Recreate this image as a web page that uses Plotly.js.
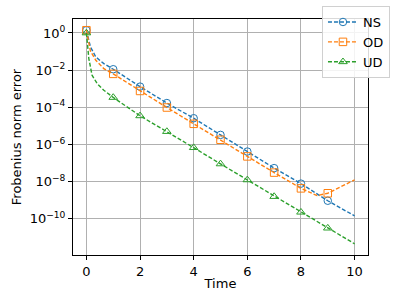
<!DOCTYPE html>
<html>
<head>
<meta charset="utf-8">
<script src="https://cdn.plot.ly/plotly-3.0.1.min.js"></script>
<style>html,body{margin:0;padding:0;background:#fff;}#chart{width:407px;height:305px;}</style>
</head>
<body>
<div id="chart"></div>
<script>
// Time samples (markers at integer times)
const timeNS = [0, 0.15, 0.35, 0.65, 1, 2, 3, 4, 5, 6, 7, 8, 9, 10];
const errNS  = [1.4, 0.178, 0.051, 0.0224, 0.0112, 1.3e-3, 1.7e-4, 2.6e-5, 3.3e-6, 4.2e-7, 5.4e-8, 7.9e-9, 9.5e-10, 1.45e-10];

const timeOD = [0, 0.15, 0.35, 0.65, 1, 2, 3, 4, 5, 6, 7, 8, 8.6, 9, 10];
const errOD  = [1.4, 0.105, 0.034, 0.012, 6.3e-3, 7.6e-4, 9.8e-5, 1.3e-5, 1.8e-6, 2.3e-7, 3.1e-8, 4.4e-9, 1.8e-9, 2.4e-9, 1.26e-8];

const timeUD = [0, 0.05, 0.09, 0.21, 0.4, 0.65, 1, 2, 3, 4, 5, 6, 7, 8, 9, 10];
const errUD  = [1.0, 0.18, 0.042, 5.4e-3, 1.9e-3, 8.3e-4, 3.4e-4, 3.5e-5, 5.0e-6, 6.8e-7, 9.1e-8, 1.26e-8, 1.6e-9, 2.3e-10, 3.2e-11, 4.6e-12];

const markerTimes = [0, 1, 2, 3, 4, 5, 6, 7, 8, 9];
const seriesNames = ['NS', 'OD', 'UD'];
const yTickVals = [1, 1e-2, 1e-4, 1e-6, 1e-8, 1e-10];
const yTickText = ['10<sup>0</sup>', '10<sup>−2</sup>', '10<sup>−4</sup>', '10<sup>−6</sup>', '10<sup>−8</sup>', '10<sup>−10</sup>'];
const xTickVals = [0, 2, 4, 6, 8, 10];

const colors = ['#1f77b4', '#ff7f0e', '#2ca02c'];
const symbols = ['circle-open', 'square-open', 'triangle-up-open'];
const times = [timeNS, timeOD, timeUD];
const errs = [errNS, errOD, errUD];

const traces = seriesNames.map((name, i) => ({
  x: times[i], y: errs[i], name: name, type: 'scatter', mode: 'lines+markers',
  line: {color: colors[i], width: 1.4, dash: '4px,2px'},
  marker: {
    symbol: symbols[i], size: 7.5,
    color: times[i].map(t => markerTimes.includes(t) ? colors[i] : 'rgba(0,0,0,0)'),
    line: {width: 1}
  }
}));

const font = {family: 'DejaVu Sans, sans-serif', size: 13, color: '#000'};
const layout = {
  width: 407, height: 305,
  margin: {l: 73, r: 39, t: 19, b: 50, autoexpand: false},
  paper_bgcolor: '#fff', plot_bgcolor: '#fff',
  font: font,
  showlegend: true,
  legend: {
    x: 0.844, y: 1.055, xanchor: 'left', yanchor: 'top',
    bgcolor: 'rgba(255,255,255,0.85)', bordercolor: '#d0d0d0', borderwidth: 1,
    font: {family: 'DejaVu Sans, sans-serif', size: 13, color: '#000'},
    tracegroupgap: 0
  },
  xaxis: {
    range: [-0.5, 10.5], tickvals: xTickVals, ticks: 'outside', ticklen: 4, tickcolor: '#000',
    showline: true, linecolor: '#000', linewidth: 1, mirror: true,
    showgrid: true, gridcolor: '#b0b0b0', gridwidth: 1, zeroline: false,
    tickfont: font,
    title: {text: 'Time', font: font, standoff: 1}
  },
  yaxis: {
    type: 'log', range: [-11.94, 0.75], tickvals: yTickVals, ticktext: yTickText,
    ticks: 'outside', ticklen: 4, tickcolor: '#000',
    showline: true, linecolor: '#000', linewidth: 1, mirror: true,
    showgrid: true, gridcolor: '#b0b0b0', gridwidth: 1, zeroline: false,
    tickfont: font,
    title: {text: 'Frobenius norm error', font: font, standoff: 5}
  }
};

Plotly.newPlot('chart', traces, layout, {staticPlot: true, displayModeBar: false});
</script>
</body>
</html>
